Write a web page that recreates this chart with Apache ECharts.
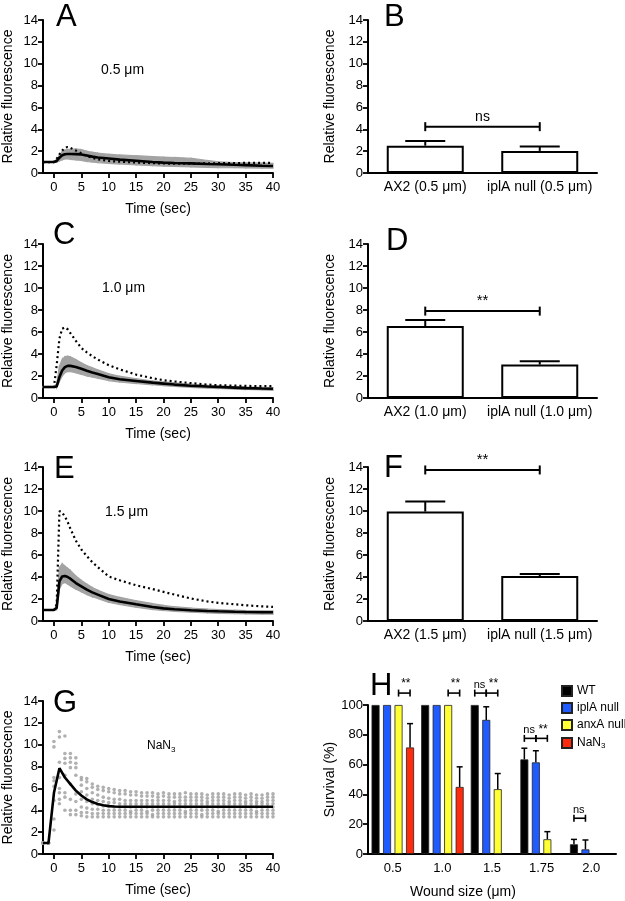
<!DOCTYPE html>
<html>
<head>
<meta charset="utf-8">
<script src="https://cdn.jsdelivr.net/npm/echarts@6/dist/echarts.min.js"></script>
<style>
html, body { margin: 0; padding: 0; background: #fff; }
#main { width: 625px; height: 901px; }
</style>
</head>
<body>
<div id="main"></div>
<script>
// ---- data: time courses A / C / E ----
var timeSec = [-2, -1, 0, 0.5, 1, 1.5, 2, 2.5, 3, 4, 5, 6, 7, 8, 10, 12, 15, 18, 20, 22, 25, 28, 30, 33, 35, 38, 40];
var tickTimes = [0, 5, 10, 15, 20, 25, 30, 35, 40];

var meanA = [1.0, 1.0, 1.0, 1.1, 1.4, 1.62, 1.72, 1.74, 1.74, 1.73, 1.7, 1.6, 1.5, 1.42, 1.32, 1.22, 1.12, 1.0, 0.95, 0.92, 0.88, 0.83, 0.8, 0.75, 0.72, 0.67, 0.64];
var dotA  = [1.0, 1.0, 1.0, 1.3, 1.7, 2.05, 2.3, 2.38, 2.3, 2.05, 1.8, 1.55, 1.38, 1.25, 1.1, 1.03, 0.96, 0.9, 0.87, 0.86, 0.86, 0.88, 0.9, 0.91, 0.92, 0.92, 0.92];
var lowA  = [1.0, 1.0, 1.0, 1.0, 1.1, 1.2, 1.3, 1.3, 1.25, 1.2, 1.15, 1.05, 1.0, 0.95, 0.88, 0.82, 0.75, 0.68, 0.63, 0.6, 0.56, 0.52, 0.5, 0.48, 0.46, 0.45, 0.44];
var highA = [1.0, 1.0, 1.05, 1.25, 1.65, 1.95, 2.1, 2.15, 2.17, 2.2, 2.15, 2.0, 1.9, 1.82, 1.72, 1.65, 1.58, 1.5, 1.45, 1.42, 1.35, 1.15, 1.02, 0.96, 0.93, 0.9, 0.88];

var meanC = [1.0, 1.0, 1.0, 1.05, 1.9, 2.5, 2.8, 2.92, 2.92, 2.82, 2.65, 2.48, 2.32, 2.18, 1.88, 1.7, 1.55, 1.4, 1.31, 1.22, 1.12, 1.04, 1.0, 0.94, 0.9, 0.86, 0.84];
var dotC  = [1.0, 1.0, 1.0, 3.0, 5.4, 6.3, 6.42, 6.25, 5.9, 5.2, 4.55, 4.15, 3.8, 3.5, 2.98, 2.6, 2.13, 1.8, 1.62, 1.5, 1.35, 1.22, 1.16, 1.12, 1.1, 1.08, 1.07];
var lowC  = [0.95, 0.95, 0.95, 0.95, 1.5, 2.0, 2.3, 2.4, 2.4, 2.3, 2.15, 2.0, 1.9, 1.8, 1.58, 1.45, 1.32, 1.2, 1.12, 1.05, 0.97, 0.9, 0.86, 0.8, 0.77, 0.73, 0.7];
var highC = [1.05, 1.05, 1.05, 1.3, 2.9, 3.5, 3.75, 3.8, 3.75, 3.5, 3.2, 2.95, 2.75, 2.55, 2.2, 1.98, 1.75, 1.55, 1.46, 1.38, 1.26, 1.15, 1.1, 1.04, 1.0, 0.97, 0.95];

var meanE = [1.0, 1.0, 1.0, 1.2, 3.6, 4.05, 4.1, 4.0, 3.85, 3.45, 3.15, 2.85, 2.6, 2.4, 2.0, 1.78, 1.52, 1.28, 1.15, 1.07, 0.98, 0.91, 0.88, 0.84, 0.82, 0.8, 0.79];
var dotE  = [1.0, 1.0, 1.0, 1.5, 10.0, 9.85, 9.5, 9.0, 8.4, 7.3, 6.5, 5.9, 5.35, 4.9, 4.05, 3.7, 3.25, 2.9, 2.65, 2.4, 2.05, 1.78, 1.64, 1.52, 1.43, 1.33, 1.28];
var lowE  = [1.0, 1.0, 1.0, 1.0, 2.9, 3.4, 3.5, 3.35, 3.2, 2.9, 2.65, 2.4, 2.2, 2.05, 1.7, 1.5, 1.25, 1.05, 0.95, 0.88, 0.8, 0.74, 0.7, 0.67, 0.65, 0.63, 0.62];
var highE = [1.0, 1.0, 1.0, 1.4, 4.9, 5.2, 5.0, 4.8, 4.6, 4.1, 3.7, 3.35, 3.05, 2.8, 2.4, 2.15, 1.85, 1.58, 1.42, 1.3, 1.18, 1.08, 1.03, 0.98, 0.95, 0.93, 0.92];

// ---- data: G (NaN3), one value per second ----
var timeG = [-2, -1, 0, 1, 2, 3, 4, 5, 6, 7, 8, 9, 10, 11, 12, 13, 14, 15, 16, 17, 18, 19, 20,
  21, 22, 23, 24, 25, 26, 27, 28, 29, 30, 31, 32, 33, 34, 35, 36, 37, 38, 39, 40];
var meanG = [1.0, 1.0, 5.6, 7.85, 7.0, 6.4, 5.8, 5.35, 5.0, 4.75, 4.58, 4.46, 4.38,
  4.34, 4.33, 4.32, 4.32, 4.32, 4.32, 4.32, 4.32, 4.32, 4.32, 4.32, 4.32, 4.32, 4.32, 4.32,
  4.32, 4.32, 4.32, 4.32, 4.32, 4.32, 4.32, 4.32, 4.32, 4.32, 4.32, 4.32, 4.32, 4.32, 4.32];
var traceG1 = [1.0, 1.0, 10.3, 11.2, 10.8, 9.2, 8.8, 7.0, 6.9, 6.4, 6.2, 6.1, 6.0,
  5.9, 5.8, 5.8, 5.7, 5.7, 5.6, 5.6, 5.6, 5.5, 5.6, 5.5, 5.5, 5.5, 5.6, 5.5,
  5.5, 5.5, 5.4, 5.5, 5.5, 5.5, 5.4, 5.5, 5.5, 5.4, 5.5, 5.4, 5.4, 5.5, 5.5];
var traceG2 = [1.0, 1.0, 9.8, 10.7, 9.2, 8.8, 8.3, 6.8, 6.6, 6.1, 5.9, 5.8, 5.7,
  5.6, 5.5, 5.5, 5.4, 5.4, 5.3, 5.3, 5.3, 5.2, 5.3, 5.2, 5.2, 5.2, 5.2, 5.2,
  5.2, 5.2, 5.1, 5.2, 5.2, 5.2, 5.1, 5.2, 5.2, 5.1, 5.2, 5.1, 5.1, 5.2, 5.2];
var traceG3 = [1.0, 1.0, 7.0, 8.4, 8.75, 8.4, 7.9, 6.3, 6.0, 5.6, 5.4, 5.2, 5.1,
  5.0, 5.0, 4.9, 4.9, 4.9, 4.9, 4.9, 4.9, 4.9, 4.9, 4.9, 4.8, 4.9, 4.9, 4.9,
  4.9, 4.9, 4.8, 4.9, 4.9, 4.9, 4.8, 4.9, 4.9, 4.8, 4.9, 4.8, 4.8, 4.9, 4.9];
var traceG4 = [1.0, 1.0, 6.7, 7.0, 8.3, 7.9, 7.2, 5.7, 5.4, 5.0, 4.9, 4.8, 4.7,
  4.7, 4.6, 4.6, 4.6, 4.6, 4.6, 4.6, 4.6, 4.6, 4.6, 4.6, 4.6, 4.6, 4.6, 4.6,
  4.6, 4.6, 4.6, 4.6, 4.6, 4.6, 4.6, 4.6, 4.6, 4.6, 4.6, 4.6, 4.6, 4.6, 4.6];
var traceG5 = [1.0, 1.0, 6.2, 6.0, 7.2, 6.4, 5.5, 5.0, 4.8, 4.6, 4.5, 4.4, 4.4,
  4.3, 4.3, 4.3, 4.3, 4.3, 4.3, 4.3, 4.3, 4.3, 4.3, 4.3, 4.3, 4.3, 4.3, 4.3,
  4.3, 4.3, 4.3, 4.3, 4.3, 4.3, 4.3, 4.3, 4.3, 4.3, 4.3, 4.3, 4.3, 4.3, 4.3];
var traceG6 = [1.0, 1.0, 4.9, 5.6, 5.6, 5.0, 4.8, 4.3, 4.2, 4.1, 4.1, 4.0, 4.0,
  4.0, 4.0, 4.0, 3.9, 4.0, 4.0, 3.9, 4.0, 4.0, 4.0, 4.0, 4.0, 4.0, 3.9, 4.0,
  4.0, 4.0, 4.0, 4.0, 3.9, 4.0, 4.0, 4.0, 4.0, 4.0, 4.0, 3.9, 4.0, 4.0, 4.0];
var traceG7 = [1.0, 1.0, 3.2, 5.0, 5.2, 4.0, 4.0, 3.8, 3.8, 3.7, 3.7, 3.7, 3.7,
  3.7, 3.7, 3.7, 3.7, 3.7, 3.7, 3.7, 3.6, 3.7, 3.7, 3.7, 3.7, 3.7, 3.7, 3.7,
  3.7, 3.6, 3.7, 3.7, 3.7, 3.7, 3.7, 3.7, 3.7, 3.7, 3.7, 3.7, 3.7, 3.7, 3.7];
var traceG8 = [1.0, 1.0, 2.2, 4.6, 4.0, 3.6, 3.6, 3.5, 3.4, 3.4, 3.4, 3.4, 3.4,
  3.4, 3.4, 3.4, 3.4, 3.4, 3.4, 3.4, 3.4, 3.4, 3.4, 3.4, 3.4, 3.4, 3.4, 3.4,
  3.4, 3.4, 3.4, 3.4, 3.4, 3.4, 3.4, 3.4, 3.4, 3.4, 3.4, 3.4, 3.4, 3.4, 3.4];

// ---- data: peak bar charts B / D / F ----
var catsB = ['AX2 (0.5 μm)', 'iplA null (0.5 μm)'];
var catsD = ['AX2 (1.0 μm)', 'iplA null (1.0 μm)'];
var catsF = ['AX2 (1.5 μm)', 'iplA null (1.5 μm)'];
var peakB = [2.5, 2.02],  errB = [0.42, 0.4];
var peakD = [6.54, 3.04], errD = [0.55, 0.31];
var peakF = [9.95, 4.08], errF = [0.91, 0.2];
var sigB = [[0, 1, 4.24, 'ns']];
var sigD = [[0, 1, 7.9, '**']];
var sigF = [[0, 1, 13.73, '**']];

// ---- data: H survival ----
var woundSizes = ['0.5', '1.0', '1.5', '1.75', '2.0'];
var survWT   = [100, 100, 100, 63.5, 6.5];
var errWT    = [0, 0, 0, 7.5, 3.3];
var survIpla = [100, 100, 90, 61.5, 3.1];
var errIpla  = [0, 0, 8.8, 7.8, 6.3];
var survAnxa = [100, 100, 43.5, 9.9, null];
var errAnxa  = [0, 0, 10.5, 5.1, 0];
var survNaN  = [71.5, 45, null, null, null];
var errNaN   = [16, 13.5, 0, 0, 0];
// [wound size index, bar from, bar to, height, label]
var sigH = [[0, 2, 3, 108, '**'], [1, 2, 3, 108, '**'], [2, 0, 1, 108, 'ns'], [2, 1, 2, 108, '**'],
  [3, 0, 1, 77.6, 'ns'], [3, 1, 2, 77.6, '**'], [4, 0, 1, 24, 'ns']];

var FONT = '"Liberation Sans", Arial, sans-serif';
var BAR_STEP = 11.5;

function pairs(xs, ys) { return xs.map(function (x, i) { return [x, ys[i]]; }); }
// band segments: [t0, lo0, hi0, t1, lo1, hi1]
function bandSegs(lo, hi) {
  var out = [];
  for (var i = 0; i < timeSec.length - 1; i++) {
    out.push([timeSec[i], lo[i], hi[i], timeSec[i + 1], lo[i + 1], hi[i + 1]]);
  }
  return out;
}

var chart = echarts.init(document.getElementById('main'), null, { renderer: 'canvas' });

var grids = [
  { left: 43, top: 20, width: 230, height: 153 },   // A
  { left: 368, top: 20, width: 229, height: 153 },  // B
  { left: 43, top: 244, width: 230, height: 154 },  // C
  { left: 368, top: 244, width: 229, height: 154 }, // D
  { left: 43, top: 467, width: 230, height: 154 },  // E
  { left: 368, top: 467, width: 229, height: 154 }, // F
  { left: 43, top: 701, width: 230, height: 153 },  // G
  { left: 368, top: 705, width: 248, height: 149 }  // H
];

var axLine = { onZero: false, lineStyle: { color: '#000', width: 2 } };
var axTick = { length: 5, lineStyle: { color: '#000', width: 1.8 } };

function timeX(gi) {
  return {
    gridIndex: gi, type: 'value', min: -2, max: 40,
    name: 'Time (sec)', nameLocation: 'middle', nameGap: 29,
    nameTextStyle: { fontSize: 14, fontFamily: FONT, color: '#000' },
    axisLine: axLine,
    axisTick: { customValues: tickTimes, length: 5, lineStyle: { color: '#000', width: 1.8 } },
    axisLabel: { customValues: tickTimes, fontSize: 13, fontFamily: FONT, color: '#000', margin: 8 },
    splitLine: { show: false }
  };
}
function catX(gi, cats) {
  return {
    gridIndex: gi, type: 'category', data: cats,
    axisLine: axLine, axisTick: { show: false },
    axisLabel: { interval: 0, fontSize: 14, fontFamily: FONT, color: '#000', margin: 7 }
  };
}
function fluoY(gi, gap) {
  return {
    gridIndex: gi, type: 'value', min: 0, max: 14, interval: 2,
    name: 'Relative fluorescence', nameLocation: 'middle', nameGap: gap,
    nameTextStyle: { fontSize: 14, fontFamily: FONT, color: '#000' },
    axisLine: Object.assign({ show: true }, axLine), axisTick: Object.assign({ show: true }, axTick),
    axisLabel: { fontSize: 13, fontFamily: FONT, color: '#000', margin: 5 },
    splitLine: { show: false }
  };
}

var xAxes = [
  timeX(0), catX(1, catsB), timeX(2), catX(3, catsD), timeX(4), catX(5, catsF), timeX(6),
  {
    gridIndex: 7, type: 'category', data: woundSizes,
    name: 'Wound size (μm)', nameLocation: 'middle', nameGap: 31,
    nameTextStyle: { fontSize: 14, fontFamily: FONT, color: '#000', padding: [0, 58, 0, 0] },
    axisLine: axLine, axisTick: { alignWithLabel: true, length: 5, lineStyle: { color: '#000', width: 1.8 } },
    axisLabel: { interval: 0, fontSize: 13, fontFamily: FONT, color: '#000', margin: 8 }
  }
];
var yAxes = [
  fluoY(0, 28), fluoY(1, 31), fluoY(2, 28), fluoY(3, 31), fluoY(4, 28), fluoY(5, 31), fluoY(6, 28),
  {
    gridIndex: 7, type: 'value', min: 0, max: 100, interval: 20,
    name: 'Survival (%)', nameLocation: 'middle', nameGap: 30,
    nameTextStyle: { fontSize: 14, fontFamily: FONT, color: '#000' },
    axisLine: Object.assign({ show: true }, axLine), axisTick: Object.assign({ show: true }, axTick),
    axisLabel: { fontSize: 13, fontFamily: FONT, color: '#000', margin: 5 },
    splitLine: { show: false }
  }
];

function renderBand(params, api) {
  var a0 = api.coord([api.value(0), api.value(1)]);
  var a1 = api.coord([api.value(0), api.value(2)]);
  var b0 = api.coord([api.value(3), api.value(4)]);
  var b1 = api.coord([api.value(3), api.value(5)]);
  return { type: 'polygon', shape: { points: [a0, a1, b1, b0] },
    style: { fill: '#a3a3a3', stroke: '#a3a3a3', lineWidth: 1.2 } };
}

// time course panel: grey band, dotted line, black mean line
function coursePanel(gi, mean, dot, low, high) {
  return [
    { type: 'custom', xAxisIndex: gi, yAxisIndex: gi, renderItem: renderBand, encode: { x: [0, 3], y: [1, 2] },
      data: bandSegs(low, high), silent: true, z: 1 },
    { type: 'line', xAxisIndex: gi, yAxisIndex: gi, data: pairs(timeSec, dot),
      symbol: 'none', lineStyle: { color: '#000', width: 2.2, type: [2, 3] }, z: 3 },
    { type: 'line', xAxisIndex: gi, yAxisIndex: gi, data: pairs(timeSec, mean),
      symbol: 'none', lineStyle: { color: '#000', width: 2.6 }, z: 4 }
  ];
}

function renderErrPeak(params, api) {
  var p0 = api.coord([api.value(0), api.value(1)]);
  var p1 = api.coord([api.value(0), api.value(1) + api.value(2)]);
  var st = { stroke: '#000', lineWidth: 2 };
  return { type: 'group', children: [
    { type: 'line', shape: { x1: p0[0], y1: p0[1], x2: p0[0], y2: p1[1] }, style: st },
    { type: 'line', shape: { x1: p0[0] - 20, y1: p1[1], x2: p0[0] + 20, y2: p1[1] }, style: st }
  ] };
}
function renderSigPeak(params, api) {
  var a = api.coord([api.value(0), api.value(2)]);
  var b = api.coord([api.value(1), api.value(2)]);
  var lab = params.seriesName === 'sigB' ? sigB : (params.seriesName === 'sigD' ? sigD : sigF);
  var txt = lab[params.dataIndex][3];
  var st = { stroke: '#000', lineWidth: 2 };
  return { type: 'group', children: [
    { type: 'line', shape: { x1: a[0], y1: a[1], x2: b[0], y2: b[1] }, style: st },
    { type: 'line', shape: { x1: a[0], y1: a[1] - 4.5, x2: a[0], y2: a[1] + 4.5 }, style: st },
    { type: 'line', shape: { x1: b[0], y1: b[1] - 4.5, x2: b[0], y2: b[1] + 4.5 }, style: st },
    { type: 'text', style: { text: txt, x: (a[0] + b[0]) / 2, y: a[1] - 3, align: 'center', verticalAlign: 'bottom',
      font: (txt === 'ns' ? '14px ' : '15px ') + FONT, fill: '#000' } }
  ] };
}
function peakPanel(gi, name, vals, errs, sig) {
  return [
    { type: 'bar', xAxisIndex: gi, yAxisIndex: gi, data: vals, barWidth: 77,
      itemStyle: { color: '#fff', borderColor: '#000', borderWidth: 2 }, z: 2 },
    { type: 'custom', xAxisIndex: gi, yAxisIndex: gi, renderItem: renderErrPeak, encode: { x: 0, y: 1 },
      data: vals.map(function (v, i) { return [i, v, errs[i]]; }), z: 3 },
    { type: 'custom', name: name, xAxisIndex: gi, yAxisIndex: gi, renderItem: renderSigPeak, encode: { x: 0, y: 2 },
      data: sig.map(function (s) { return [s[0], s[1], s[2]]; }), z: 3 }
  ];
}

function renderErrH(params, api) {
  var off = (api.value(1) - 1.5) * BAR_STEP;
  var p0 = api.coord([api.value(0), api.value(2)]);
  var p1 = api.coord([api.value(0), api.value(2) + api.value(3)]);
  var x = p0[0] + off;
  var st = { stroke: '#000', lineWidth: 1.5 };
  return { type: 'group', children: [
    { type: 'line', shape: { x1: x, y1: p0[1], x2: x, y2: p1[1] }, style: st },
    { type: 'line', shape: { x1: x - 3, y1: p1[1], x2: x + 3, y2: p1[1] }, style: st }
  ] };
}
function renderSigH(params, api) {
  var c = api.coord([api.value(0), api.value(3)]);
  var xa = c[0] + (api.value(1) - 1.5) * BAR_STEP;
  var xb = c[0] + (api.value(2) - 1.5) * BAR_STEP;
  var y = c[1];
  var txt = sigH[params.dataIndex][4];
  var st = { stroke: '#000', lineWidth: 1.6 };
  return { type: 'group', children: [
    { type: 'line', shape: { x1: xa, y1: y, x2: xb, y2: y }, style: st },
    { type: 'line', shape: { x1: xa, y1: y - 3.5, x2: xa, y2: y + 3.5 }, style: st },
    { type: 'line', shape: { x1: xb, y1: y - 3.5, x2: xb, y2: y + 3.5 }, style: st },
    { type: 'text', style: { text: txt, x: (xa + xb) / 2 + (txt === 'ns' ? -1 : 1.5), y: y - 3, align: 'center', verticalAlign: 'bottom',
      font: (txt === 'ns' ? '11px ' : '12px ') + FONT, fill: '#000' } }
  ] };
}

var errHData = [];
[[survWT, errWT], [survIpla, errIpla], [survAnxa, errAnxa], [survNaN, errNaN]].forEach(function (s, k) {
  s[0].forEach(function (v, i) {
    if (v != null && s[1][i] > 0) errHData.push([i, k, v, s[1][i]]);
  });
});

var scatterG = [];
[traceG1, traceG2, traceG3, traceG4, traceG5, traceG6, traceG7, traceG8].forEach(function (tr) {
  scatterG = scatterG.concat(pairs(timeG, tr));
});

function hBar(name, vals, color) {
  return { type: 'bar', name: name, xAxisIndex: 7, yAxisIndex: 7, data: vals, barWidth: 8, barGap: '43.75%',
    itemStyle: { color: color, borderColor: '#222', borderWidth: 0.8 }, z: 2 };
}

var series = []
  .concat(coursePanel(0, meanA, dotA, lowA, highA))
  .concat(peakPanel(1, 'sigB', peakB, errB, sigB))
  .concat(coursePanel(2, meanC, dotC, lowC, highC))
  .concat(peakPanel(3, 'sigD', peakD, errD, sigD))
  .concat(coursePanel(4, meanE, dotE, lowE, highE))
  .concat(peakPanel(5, 'sigF', peakF, errF, sigF))
  .concat([
    { type: 'scatter', xAxisIndex: 6, yAxisIndex: 6, data: scatterG, symbolSize: 3.6,
      itemStyle: { color: '#9c9c9c' }, z: 2 },
    { type: 'line', xAxisIndex: 6, yAxisIndex: 6, data: pairs(timeG, meanG), symbol: 'none',
      lineStyle: { color: '#000', width: 2.6 }, z: 4 },
    hBar('WT', survWT, '#000'),
    hBar('iplA null', survIpla, '#1f5bff'),
    hBar('anxA null', survAnxa, '#ffff33'),
    hBar('NaN3', survNaN, '#ff2b0d'),
    { type: 'custom', xAxisIndex: 7, yAxisIndex: 7, renderItem: renderErrH, encode: { x: 0, y: 2 }, data: errHData, z: 3 },
    { type: 'custom', xAxisIndex: 7, yAxisIndex: 7, renderItem: renderSigH, encode: { x: 0, y: 3 },
      data: sigH.map(function (s) { return [s[0], s[1], s[2], s[3]]; }), z: 3 }
  ]);

function letter(ch, x, y) {
  return { type: 'text', x: x, y: y, z: 10, style: { text: ch, font: '31px ' + FONT, fill: '#000', align: 'left', verticalAlign: 'middle' } };
}
function note(t, x, y) {
  return { type: 'text', x: x, y: y, z: 10, style: { text: t, font: '14px ' + FONT, fill: '#000', align: 'left', verticalAlign: 'middle' } };
}

var option = {
  animation: false,
  backgroundColor: '#fff',
  grid: grids,
  xAxis: xAxes,
  yAxis: yAxes,
  legend: {
    data: ['WT', 'iplA null', 'anxA null', 'NaN3'],
    orient: 'vertical', left: 561, top: 685, padding: 0, icon: 'rect',
    itemWidth: 10, itemHeight: 10, itemGap: 5,
    formatter: function (n) { return n === 'NaN3' ? '{t|NaN}{s|3}' : '{t|' + n + '}'; },
    textStyle: {
      color: '#000', fontFamily: FONT, fontSize: 12, lineHeight: 12,
      rich: { t: { fontSize: 12, lineHeight: 12, fontFamily: FONT, color: '#000' },
        s: { fontSize: 8, lineHeight: 8, fontFamily: FONT, color: '#000', padding: [6, 0, 0, 0] } }
    }
  },
  graphic: [
    letter('A', 56, 17), letter('B', 384, 17), letter('C', 53, 235), letter('D', 386, 241),
    letter('E', 54, 469), letter('F', 384, 468), letter('G', 53, 703), letter('H', 370, 686),
    note('0.5 μm', 101, 70), note('1.0 μm', 102, 288), note('1.5 μm', 105, 512),
    { type: 'text', x: 147, y: 746, z: 10, style: { text: '{t|NaN}{s|3}', align: 'left', verticalAlign: 'middle',
      rich: { t: { font: '12px ' + FONT, fill: '#000' }, s: { font: '8px ' + FONT, fill: '#000', padding: [7, 0, 0, 0] } } } }
  ],
  series: series
};

chart.setOption(option);
</script>
</body>
</html>
